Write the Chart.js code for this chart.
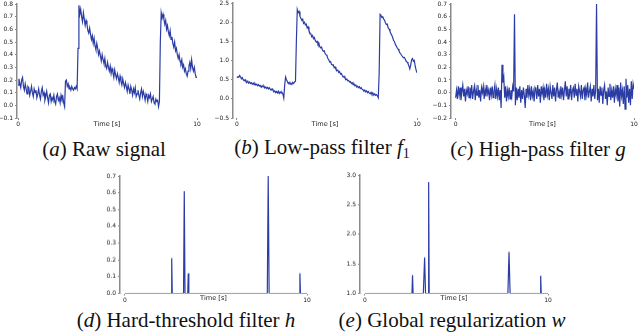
<!DOCTYPE html>
<html>
<head>
<meta charset="utf-8">
<script src="https://cdn.jsdelivr.net/npm/chart.js@4.4.1/dist/chart.umd.min.js"></script>
<style>
  html, body { margin: 0; padding: 0; background: #fff; }
  body { width: 640px; height: 335px; position: relative; overflow: hidden; }
  canvas { position: absolute; }
  .cap { position: absolute; transform: translate(-50%, -50%); white-space: nowrap;
         font-family: 'Liberation Serif', serif;
         font-size: 21px; color: #111; line-height: 1; }
  .cap sub { font-size: 14px; vertical-align: -4px; font-style: normal; }
</style>
</head>
<body>
<canvas id="cA"></canvas>
<canvas id="cB"></canvas>
<canvas id="cC"></canvas>
<canvas id="cD"></canvas>
<canvas id="cE"></canvas>
<div class="cap" style="left:104px; top:149px">(<i>a</i>) Raw signal</div>
<div class="cap" style="left:322px; top:149px">(<i>b</i>) Low-pass filter <i>f</i><sub>1</sub></div>
<div class="cap" style="left:538px; top:149px">(<i>c</i>) High-pass filter <i>g</i></div>
<div class="cap" style="left:186px; top:320px">(<i>d</i>) Hard-threshold filter <i>h</i></div>
<div class="cap" style="left:452px; top:320px">(<i>e</i>) Global regularization <i>w</i></div>
<script>
// ---------- DATA ----------
const sampleStep = 0.05;          // seconds between samples of (a), (b), (c)
const xTickValues = [0, 10];

// (a) raw signal, one row per second
const rawSignal = [
  0.16,0.21,0.17,0.14,0.20,0.22,0.15,0.12,0.17,0.13,0.09,0.15,0.14,0.08,0.11,0.15,0.10,0.07,0.13,0.10,
  0.12,0.06,0.09,0.13,0.08,0.05,0.11,0.14,0.08,0.10,0.04,0.07,0.11,0.06,0.02,0.08,0.09,0.03,0.06,0.04,
  0.08,0.03,0.01,0.07,0.09,0.04,0.06,0.02,0.08,0.05,0.07,0.02,-0.01,0.19,0.20,0.15,0.17,0.13,0.14,0.12,
  0.15,0.13,0.12,0.14,0.13,0.15,0.13,0.45,0.79,0.72,0.76,0.70,0.66,0.73,0.68,0.63,0.67,0.64,0.59,0.57,
  0.61,0.56,0.52,0.55,0.49,0.53,0.47,0.44,0.49,0.45,0.40,0.43,0.39,0.35,0.40,0.36,0.33,0.37,0.31,0.29,
  0.34,0.30,0.27,0.31,0.25,0.29,0.26,0.22,0.28,0.24,0.21,0.25,0.22,0.18,0.23,0.19,0.16,0.21,0.17,0.14,
  0.18,0.15,0.11,0.16,0.13,0.09,0.15,0.12,0.08,0.13,0.10,0.14,0.07,0.09,0.12,0.08,0.05,0.10,0.13,0.07,
  0.11,0.08,0.04,0.09,0.07,0.03,0.08,0.06,0.09,0.03,0.05,0.07,0.02,0.01,0.05,0.03,0.04,-0.01,0.03,0.50,
  0.73,0.69,0.72,0.68,0.64,0.67,0.60,0.63,0.58,0.55,0.59,0.52,0.54,0.49,0.46,0.50,0.43,0.45,0.40,0.37,
  0.40,0.35,0.33,0.36,0.30,0.32,0.27,0.29,0.25,0.23,0.27,0.31,0.34,0.29,0.36,0.30,0.27,0.30,0.25,0.22,
  0.22
];

// (b) low-pass filter f1
const lowPass = [
  0.55,0.58,0.56,0.61,0.57,0.52,0.55,0.50,0.47,0.50,0.45,0.43,0.46,0.41,0.44,0.40,0.42,0.38,0.41,0.37,
  0.40,0.36,0.38,0.34,0.37,0.33,0.35,0.30,0.34,0.31,0.33,0.28,0.31,0.27,0.30,0.26,0.29,0.25,0.23,0.26,
  0.22,0.18,0.21,0.16,0.19,0.15,0.20,0.14,0.18,0.15,0.17,0.13,0.02,0.35,0.57,0.50,0.45,0.40,0.43,0.38,
  0.41,0.38,0.43,0.40,0.44,0.46,1.50,2.33,2.25,2.28,2.15,2.10,2.05,2.08,1.97,2.00,1.93,1.95,1.85,1.88,
  1.78,1.72,1.70,1.62,1.65,1.57,1.60,1.52,1.48,1.50,1.42,1.45,1.36,1.33,1.35,1.27,1.24,1.25,1.18,1.15,
  1.12,1.05,1.02,0.96,0.97,0.90,0.88,0.89,0.81,0.83,0.77,0.74,0.75,0.69,0.71,0.65,0.66,0.61,0.57,0.59,
  0.54,0.50,0.52,0.47,0.48,0.44,0.45,0.40,0.42,0.37,0.39,0.34,0.36,0.31,0.33,0.29,0.32,0.27,0.29,0.25,
  0.24,0.20,0.23,0.18,0.21,0.16,0.19,0.15,0.13,0.17,0.12,0.15,0.10,0.13,0.09,0.11,0.08,0.03,0.70,2.20,
  2.17,2.12,2.14,2.08,2.05,1.98,1.94,1.95,1.85,1.82,1.76,1.70,1.66,1.60,1.52,1.49,1.42,1.38,1.33,1.30,
  1.25,1.20,1.17,1.13,1.10,1.07,1.08,1.03,0.98,0.96,0.92,0.86,0.78,0.88,1.02,1.05,0.98,1.00,0.85,0.75,
  0.68
];

// (c) high-pass filter g
const highPass = [
  -0.04,0.02,-0.05,0.05,-0.02,0.04,-0.06,0.01,0.06,-0.03,0.03,-0.07,0.02,-0.01,0.05,-0.04,0.04,-0.02,0.06,-0.05,
  0.01,0.05,-0.06,0.03,-0.02,0.06,-0.04,0.02,-0.07,0.04,0.00,0.05,-0.05,0.03,-0.03,0.06,-0.01,0.02,-0.06,0.04,
  -0.02,0.05,-0.04,0.01,0.06,-0.05,0.03,-0.03,0.04,-0.06,0.02,-0.12,0.22,0.08,0.12,-0.04,0.05,-0.07,0.02,-0.03,
  0.04,-0.05,0.02,-0.03,0.05,0.01,0.62,-0.10,0.04,-0.06,0.03,-0.04,0.05,-0.08,0.02,-0.05,0.04,-0.02,-0.12,0.03,
  -0.04,0.06,-0.02,0.03,-0.06,0.05,-0.03,0.01,-0.07,0.04,0.02,-0.05,0.06,-0.03,0.03,-0.08,0.05,-0.01,0.04,-0.06,
  0.02,-0.04,0.07,-0.02,0.03,-0.06,0.05,0.00,-0.05,0.06,-0.03,0.04,-0.07,0.02,0.08,-0.04,0.01,-0.05,0.05,-0.02,
  0.04,-0.06,0.02,0.09,-0.03,0.05,-0.05,0.03,-0.01,0.06,-0.06,0.02,0.04,-0.04,0.07,-0.02,0.03,-0.07,0.05,0.01,
  -0.03,0.06,-0.05,0.02,0.04,-0.06,0.03,-0.02,0.08,-0.04,0.01,0.05,-0.07,0.03,-0.03,0.06,-0.05,0.02,0.70,-0.06,
  0.03,-0.08,0.05,-0.02,0.04,-0.09,0.02,0.06,-0.05,0.01,-0.10,0.04,-0.03,0.07,-0.06,0.02,-0.04,0.05,-0.08,0.03,
  -0.02,0.06,-0.07,0.04,-0.11,0.08,-0.03,0.02,-0.09,0.05,-0.13,0.11,-0.04,0.06,-0.08,0.03,-0.10,0.09,-0.05,0.07,
  0.03
];

// (d) hard-threshold filter h : sparse spikes
const hardTimes  = [0, 2.54, 2.57, 2.60, 3.22, 3.26, 3.30, 3.45, 3.48, 3.51, 7.82, 7.87, 7.92, 9.58, 9.61, 9.64, 10];
const hardValues = [0, 0,    0.21, 0,    0,    0.61, 0,    0,    0.12, 0,    0,    0.70, 0,    0,    0.12, 0,    0];

// (e) global regularization w
const globTimes  = [0, 2.57, 2.60, 2.63, 3.19, 3.26, 3.31, 3.45, 3.48, 3.51, 7.81, 7.87, 7.93, 9.57, 9.60, 9.63, 10];
const globValues = [1, 1,    1.31, 1,    1,    1.61, 1,    1,    2.88, 1,    1,    1.70, 1,    1,    1.30, 1,    1];

// y tick labels for each panel
const yTicksA = [-0.1, 0.0, 0.1, 0.2, 0.3, 0.4, 0.5, 0.6, 0.7, 0.8];
const yTicksB = [-0.5, 0.0, 0.5, 1.0, 1.5, 2.0, 2.5];
const yTicksC = [-0.2, -0.1, 0.0, 0.1, 0.2, 0.3, 0.4, 0.5, 0.6, 0.7];
const yTicksD = [0.0, 0.1, 0.2, 0.3, 0.4, 0.5, 0.6, 0.7];
const yTicksE = [1.0, 1.5, 2.0, 2.5, 3.0];

// ---------- RENDERING ----------
const LINE = '#2b3da4';
const AXIS = '#8a8a8a';
const TXT = '#222';
const Y_W = 18, PAD_T = 6, PAD_R = 8;

function sampled(vals) {
  return vals.map((v, i) => ({ x: i * sampleStep, y: v }));
}
function paired(ts, vs) {
  return ts.map((t, i) => ({ x: t, y: vs[i] }));
}
function fmt(v) { return v.toFixed(1).replace('-', '\u2212'); }

function makePanel(id, box, xMin, yTicks, points, xH) {
  const cv = document.getElementById(id);
  const w = box.R - box.L + Y_W + PAD_R;
  const h = box.B - box.T + PAD_T + xH;
  cv.width = w; cv.height = h;
  cv.style.left = (box.L - Y_W) + 'px';
  cv.style.top = (box.T - PAD_T) + 'px';
  cv.style.width = w + 'px'; cv.style.height = h + 'px';
  new Chart(cv, {
    type: 'line',
    data: { datasets: [{ data: points, borderColor: LINE, borderWidth: 1.2,
                         pointRadius: 0, tension: 0, fill: false }] },
    options: {
      responsive: false, animation: false, devicePixelRatio: 1,
      layout: { padding: { left: 0, top: PAD_T, right: PAD_R, bottom: 0 } },
      plugins: { legend: { display: false }, tooltip: { enabled: false } },
      scales: {
        x: {
          type: 'linear', min: xMin, max: 10,
          afterBuildTicks: s => { s.ticks = xTickValues.map(v => ({ value: v })); },
          afterFit: s => { s.height = xH; },
          border: { display: false },
          grid: { display: true, drawOnChartArea: false, drawTicks: true, tickLength: 2, color: AXIS },
          ticks: { autoSkip: false, maxRotation: 0, padding: 1, color: TXT,
                   font: { family: 'DejaVu Sans', size: 6 }, callback: v => String(v) },
          title: { display: true, text: 'Time [s]', color: TXT, padding: { top: 0, bottom: 0 },
                   font: { family: 'DejaVu Sans', size: 6.6 } }
        },
        y: {
          type: 'linear', min: yTicks[0], max: yTicks[yTicks.length - 1],
          afterBuildTicks: s => { s.ticks = yTicks.map(v => ({ value: v })); },
          afterFit: s => { s.width = Y_W; },
          border: { display: true, color: AXIS, width: 1.5 },
          grid: { display: true, drawOnChartArea: false, drawTicks: true, tickLength: 2, color: AXIS },
          ticks: { autoSkip: false, padding: 2, color: TXT,
                   font: { family: 'DejaVu Sans', size: 6 }, callback: v => fmt(v) }
        }
      }
    }
  });
}

makePanel('cA', { L: 17,  R: 197, T: 4,   B: 118 }, -0.06, yTicksA, sampled(rawSignal), 10);
makePanel('cB', { L: 233, R: 417, T: 3,   B: 118 }, -0.22, yTicksB, sampled(lowPass), 10);
makePanel('cC', { L: 451, R: 634, T: 4,   B: 118 }, -0.26, yTicksC, sampled(highPass), 10);
makePanel('cD', { L: 120, R: 307, T: 176, B: 293 }, -0.27, yTicksD, paired(hardTimes, hardValues), 8.5);
makePanel('cE', { L: 360, R: 548, T: 175, B: 293 }, -0.27, yTicksE, paired(globTimes, globValues), 8.5);
</script>
</body>
</html>
